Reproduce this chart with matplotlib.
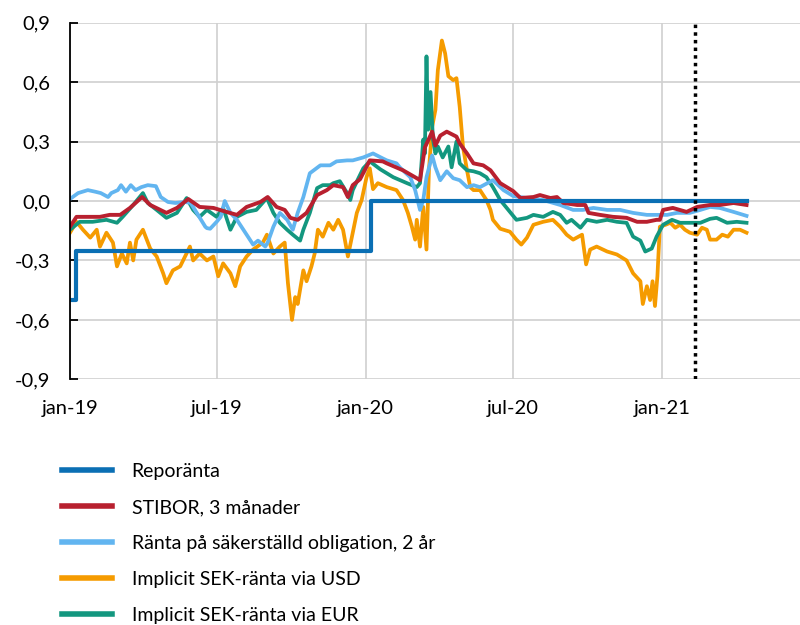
import matplotlib
matplotlib.use("Agg")
import matplotlib.pyplot as plt
import pandas as pd

plt.rcParams['font.family'] = ['Lato', 'DejaVu Sans']

# Reporänta (step series)
repo_dates = ['2019-01-01', '2019-01-09', '2020-01-08', '2021-04-16']
repo_vals = [-0.5, -0.25, 0.0, 0.0]

# STIBOR, 3 månader
stibor_dates = ['2019-01-01', '2019-01-09', '2019-02-07', '2019-02-19', '2019-03-04', '2019-03-16',
                '2019-03-31', '2019-04-10', '2019-04-30', '2019-05-13', '2019-05-27', '2019-06-10',
                '2019-06-27', '2019-07-13', '2019-07-26', '2019-08-07', '2019-08-24', '2019-09-02',
                '2019-09-13', '2019-09-23', '2019-09-30', '2019-10-09', '2019-10-20', '2019-11-02',
                '2019-11-14', '2019-11-22', '2019-12-04', '2019-12-10', '2019-12-16', '2019-12-25',
                '2020-01-06', '2020-01-22', '2020-01-27', '2020-02-16', '2020-03-04', '2020-03-08',
                '2020-03-14', '2020-03-23', '2020-03-27', '2020-04-02', '2020-04-10', '2020-04-22',
                '2020-04-26', '2020-05-05', '2020-05-13', '2020-05-25', '2020-06-03', '2020-06-15',
                '2020-07-01', '2020-07-10', '2020-07-26', '2020-08-03', '2020-08-16', '2020-08-24',
                '2020-09-01', '2020-09-18', '2020-09-28', '2020-10-02', '2020-10-16', '2020-11-01',
                '2020-11-18', '2020-12-01', '2020-12-13', '2020-12-25', '2020-12-29', '2021-01-02',
                '2021-01-14', '2021-01-31', '2021-02-13', '2021-03-01', '2021-03-13', '2021-03-30',
                '2021-04-15']
stibor_vals = [-0.13, -0.08, -0.08, -0.07, -0.07, -0.035,
               0.02, -0.02, -0.06, -0.035, 0.01, -0.03,
               -0.035, -0.055, -0.07, -0.03, -0.005, 0.02,
               -0.03, -0.045, -0.085, -0.095, -0.06, 0.03,
               0.055, 0.08, 0.07, 0.02, 0.08, 0.11,
               0.205, 0.2, 0.19, 0.155, 0.115, 0.105,
               0.27, 0.35, 0.28, 0.33, 0.35, 0.325,
               0.29, 0.24, 0.19, 0.18, 0.155, 0.09,
               0.05, 0.015, 0.02, 0.03, 0.015, 0.02,
               -0.01, -0.02, -0.02, -0.06, -0.07, -0.08,
               -0.085, -0.105, -0.105, -0.095, -0.095, -0.045,
               -0.035, -0.055, -0.03, -0.02, -0.02, -0.01,
               -0.02]

# Ränta på säkerställd obligation, 2 år
bond_dates = ['2019-01-01', '2019-01-11', '2019-01-23', '2019-02-01', '2019-02-08', '2019-02-17',
              '2019-02-21', '2019-03-01', '2019-03-05', '2019-03-11', '2019-03-17', '2019-03-23',
              '2019-03-30', '2019-04-07', '2019-04-17', '2019-04-23', '2019-05-02', '2019-05-11',
              '2019-05-23', '2019-05-30', '2019-06-08', '2019-06-17', '2019-06-19', '2019-06-23',
              '2019-07-01', '2019-07-06', '2019-07-11', '2019-07-18', '2019-07-26', '2019-08-03',
              '2019-08-15', '2019-08-21', '2019-08-30', '2019-09-02', '2019-09-09', '2019-09-17',
              '2019-09-26', '2019-10-03', '2019-10-09', '2019-10-16', '2019-10-24', '2019-11-06',
              '2019-11-18', '2019-11-26', '2019-12-09', '2019-12-16', '2019-12-29', '2020-01-10',
              '2020-01-22', '2020-01-27', '2020-02-08', '2020-02-12', '2020-02-25', '2020-03-02',
              '2020-03-08', '2020-03-12', '2020-03-16', '2020-03-23', '2020-03-27', '2020-04-02',
              '2020-04-10', '2020-04-18', '2020-04-26', '2020-05-05', '2020-05-13', '2020-05-21',
              '2020-06-06', '2020-06-19', '2020-07-01', '2020-07-18', '2020-08-07', '2020-08-28',
              '2020-09-13', '2020-09-25', '2020-10-08', '2020-10-25', '2020-11-10', '2020-11-26',
              '2020-12-13', '2020-12-25', '2021-01-07', '2021-01-19', '2021-02-04', '2021-02-17',
              '2021-03-01', '2021-03-13', '2021-03-30', '2021-04-15']
bond_vals = [0.01, 0.04, 0.055, 0.047, 0.04, 0.02,
             0.04, 0.055, 0.08, 0.047, 0.08, 0.055,
             0.07, 0.08, 0.075, 0.02, -0.005, -0.01,
             -0.005, -0.01, -0.07, -0.13, -0.137, -0.14,
             -0.105, -0.08, 0.0, -0.06, -0.095, -0.145,
             -0.22, -0.2, -0.23, -0.21, -0.13, -0.06,
             -0.095, -0.145, -0.06, 0.02, 0.14, 0.18,
             0.18, 0.2, 0.205, 0.205, 0.22, 0.24,
             0.215, 0.205, 0.19, 0.17, 0.12, 0.055,
             -0.045, 0.005, 0.12, 0.23, 0.17, 0.105,
             0.15, 0.115, 0.105, 0.07, 0.08, 0.07,
             0.105, 0.055, 0.025, 0.015, 0.005, -0.02,
             -0.045, -0.045, -0.035, -0.045, -0.045, -0.06,
             -0.07, -0.07, -0.07, -0.06, -0.06, -0.045,
             -0.03, -0.035, -0.055, -0.075]

# Implicit SEK-ränta via USD
usd_dates = ['2019-01-01', '2019-01-09', '2019-01-17', '2019-01-26', '2019-02-03', '2019-02-07',
             '2019-02-15', '2019-02-23', '2019-02-28', '2019-03-06', '2019-03-12', '2019-03-16',
             '2019-03-20', '2019-03-24', '2019-04-01', '2019-04-10', '2019-04-18', '2019-04-26',
             '2019-04-30', '2019-05-08', '2019-05-17', '2019-05-23', '2019-05-29', '2019-06-02',
             '2019-06-10', '2019-06-19', '2019-06-27', '2019-07-03', '2019-07-09', '2019-07-18',
             '2019-07-24', '2019-07-30', '2019-08-07', '2019-08-15', '2019-08-27', '2019-09-01',
             '2019-09-09', '2019-09-17', '2019-09-23', '2019-09-27', '2019-10-02', '2019-10-06',
             '2019-10-09', '2019-10-16', '2019-10-20', '2019-10-26', '2019-10-30', '2019-11-03',
             '2019-11-09', '2019-11-16', '2019-11-22', '2019-11-28', '2019-12-04', '2019-12-10',
             '2019-12-15', '2019-12-21', '2019-12-27', '2020-01-02', '2020-01-06', '2020-01-10',
             '2020-01-16', '2020-01-27', '2020-02-08', '2020-02-16', '2020-02-22', '2020-02-27',
             '2020-03-02', '2020-03-04', '2020-03-08', '2020-03-12', '2020-03-16', '2020-03-19',
             '2020-03-23', '2020-03-27', '2020-03-30', '2020-04-04', '2020-04-08', '2020-04-12',
             '2020-04-18', '2020-04-22', '2020-04-26', '2020-04-30', '2020-05-05', '2020-05-09',
             '2020-05-13', '2020-05-21', '2020-05-29', '2020-06-03', '2020-06-06', '2020-06-15',
             '2020-06-27', '2020-07-05', '2020-07-11', '2020-07-18', '2020-07-26', '2020-08-07',
             '2020-08-19', '2020-08-28', '2020-09-05', '2020-09-13', '2020-09-24', '2020-09-29',
             '2020-10-04', '2020-10-12', '2020-10-25', '2020-11-06', '2020-11-18', '2020-11-26',
             '2020-12-05', '2020-12-08', '2020-12-13', '2020-12-17', '2020-12-20', '2020-12-23',
             '2020-12-26', '2020-12-29', '2021-01-05', '2021-01-11', '2021-01-17', '2021-01-23',
             '2021-01-29', '2021-02-04', '2021-02-13', '2021-02-19', '2021-02-25', '2021-03-01',
             '2021-03-09', '2021-03-16', '2021-03-23', '2021-03-30', '2021-04-07', '2021-04-15']
usd_vals = [-0.16, -0.105, -0.145, -0.185, -0.145, -0.23,
            -0.16, -0.21, -0.33, -0.265, -0.315, -0.21,
            -0.3, -0.195, -0.145, -0.24, -0.28, -0.365,
            -0.415, -0.35, -0.33, -0.28, -0.23, -0.3,
            -0.265, -0.3, -0.28, -0.38, -0.315, -0.365,
            -0.43, -0.33, -0.28, -0.245, -0.21, -0.17,
            -0.265, -0.23, -0.21, -0.415, -0.6, -0.485,
            -0.52, -0.35, -0.405, -0.33, -0.265, -0.145,
            -0.18, -0.11, -0.145, -0.095, -0.145, -0.28,
            -0.18, -0.06, 0.005, 0.12, 0.165, 0.06,
            0.09, 0.07, 0.055, 0.005, -0.06, -0.13,
            -0.195, -0.095, -0.23, -0.03, -0.245, 0.155,
            0.375, 0.46, 0.66, 0.81, 0.745, 0.63,
            0.61, 0.62, 0.475, 0.275, 0.155, 0.07,
            0.055, 0.055, 0.005, -0.045, -0.095, -0.14,
            -0.155, -0.195, -0.22, -0.185, -0.12, -0.105,
            -0.095, -0.13, -0.17, -0.195, -0.17, -0.32,
            -0.245, -0.23, -0.255, -0.27, -0.3, -0.365,
            -0.405, -0.52, -0.43, -0.5, -0.405, -0.53,
            -0.38, -0.13, -0.12, -0.11, -0.135, -0.12,
            -0.145, -0.16, -0.17, -0.135, -0.145, -0.195,
            -0.195, -0.17, -0.18, -0.145, -0.145, -0.16]

# Implicit SEK-ränta via EUR
eur_dates = ['2019-01-01', '2019-01-13', '2019-01-29', '2019-02-15', '2019-02-28', '2019-03-07',
             '2019-03-20', '2019-04-01', '2019-04-07', '2019-04-18', '2019-04-30', '2019-05-13',
             '2019-05-25', '2019-06-02', '2019-06-10', '2019-06-19', '2019-07-01', '2019-07-09',
             '2019-07-18', '2019-07-26', '2019-08-07', '2019-08-19', '2019-09-01', '2019-09-09',
             '2019-09-17', '2019-09-26', '2019-10-03', '2019-10-12', '2019-10-16', '2019-10-24',
             '2019-11-02', '2019-11-09', '2019-11-18', '2019-11-22', '2019-11-30', '2019-12-09',
             '2019-12-13', '2019-12-16', '2019-12-23', '2019-12-29', '2020-01-06', '2020-01-19',
             '2020-02-04', '2020-02-21', '2020-03-04', '2020-03-08', '2020-03-12', '2020-03-14',
             '2020-03-16', '2020-03-18', '2020-03-21', '2020-03-24', '2020-03-27', '2020-03-30',
             '2020-04-05', '2020-04-12', '2020-04-16', '2020-04-22', '2020-04-26', '2020-05-05',
             '2020-05-13', '2020-05-21', '2020-05-29', '2020-06-06', '2020-06-15', '2020-06-27',
             '2020-07-05', '2020-07-18', '2020-07-26', '2020-08-07', '2020-08-19', '2020-08-28',
             '2020-09-05', '2020-09-11', '2020-09-22', '2020-09-30', '2020-10-12', '2020-10-25',
             '2020-11-06', '2020-11-18', '2020-11-26', '2020-12-05', '2020-12-11', '2020-12-19',
             '2020-12-25', '2021-01-02', '2021-01-13', '2021-01-23', '2021-02-04', '2021-02-17',
             '2021-03-01', '2021-03-09', '2021-03-22', '2021-04-03', '2021-04-15']
eur_vals = [-0.145, -0.105, -0.105, -0.095, -0.11, -0.08,
            -0.02, 0.04, -0.01, -0.045, -0.085, -0.06,
            0.015, -0.045, -0.08, -0.045, -0.08, -0.035,
            -0.145, -0.08, -0.055, -0.045, 0.015, -0.06,
            -0.11, -0.145, -0.17, -0.2, -0.145, -0.06,
            0.065, 0.08, 0.08, 0.09, 0.1, 0.04,
            0.005, 0.055, 0.115, 0.165, 0.2, 0.16,
            0.12, 0.09, 0.07, 0.09, 0.31, 0.24,
            0.73, 0.36, 0.55, 0.31, 0.24, 0.275,
            0.22, 0.275, 0.17, 0.3, 0.19, 0.155,
            0.15, 0.14, 0.12, 0.07, 0.005, -0.055,
            -0.095, -0.085, -0.07, -0.08, -0.055, -0.07,
            -0.11, -0.095, -0.135, -0.095, -0.105, -0.095,
            -0.105, -0.11, -0.18, -0.2, -0.255, -0.24,
            -0.18, -0.12, -0.095, -0.11, -0.11, -0.11,
            -0.09, -0.085, -0.11, -0.105, -0.11]

forecast_date = '2021-02-10'
x_ticks = ['2019-01-01', '2019-07-01', '2020-01-01', '2020-07-01', '2021-01-01']
x_tick_labels = ['jan-19', 'jul-19', 'jan-20', 'jul-20', 'jan-21']
y_ticks = [-0.9, -0.6, -0.3, 0.0, 0.3, 0.6, 0.9]

BLUE = '#0a6fb4'
RED = '#b8202f'
LIGHTBLUE = '#62b5f0'
ORANGE = '#f59b00'
TEAL = '#13977f'

fig = plt.figure(figsize=(8, 6.25), dpi=100)
ax = fig.add_axes([0.0875, 0.3931, 0.9125, 0.5706])

l_usd, = ax.plot(pd.to_datetime(usd_dates), usd_vals, color=ORANGE, lw=2.7, label='Implicit SEK-ränta via USD')
l_eur, = ax.plot(pd.to_datetime(eur_dates), eur_vals, color=TEAL, lw=2.7, label='Implicit SEK-ränta via EUR')
l_bond, = ax.plot(pd.to_datetime(bond_dates), bond_vals, color=LIGHTBLUE, lw=2.7, label='Ränta på säkerställd obligation, 2 år')
l_stib, = ax.plot(pd.to_datetime(stibor_dates), stibor_vals, color=RED, lw=2.8, label='STIBOR, 3 månader')
l_repo, = ax.plot(pd.to_datetime(repo_dates), repo_vals, color=BLUE, lw=3.0, drawstyle='steps-post', label='Reporänta')

ax.axvline(pd.Timestamp(forecast_date), color='black', lw=2.5, ls=(0, (1, 1.2)), zorder=6)

ax.set_xlim(pd.Timestamp('2019-01-01'), pd.Timestamp('2021-06-20'))
ax.set_ylim(-0.9, 0.9)
ax.set_xticks(pd.to_datetime(x_ticks))
ax.set_xticklabels(x_tick_labels)
ax.set_yticks(y_ticks)
ax.set_yticklabels([('%.1f' % v).replace('.', ',') for v in y_ticks])

ax.grid(True, color='#d0d0d0', lw=1.2)
ax.set_axisbelow(True)
for s in ['top', 'right', 'bottom']:
    ax.spines[s].set_visible(False)
ax.spines['left'].set_color('black')
ax.spines['left'].set_linewidth(1.3)
ax.tick_params(axis='y', direction='in', length=6, width=1.3, pad=14, labelsize=14.5)
ax.tick_params(axis='x', length=0, pad=15, labelsize=14.5)

leg = fig.legend(handles=[l_repo, l_stib, l_bond, l_usd, l_eur], loc='upper left',
                 bbox_to_anchor=(0.065, 0.2747), frameon=False, fontsize=14,
                 handlelength=2.6, handletextpad=1.0, labelspacing=0.98, borderpad=0)
for h in leg.legend_handles:
    h.set_linewidth(4)

fig.savefig('out.png', dpi=100)
